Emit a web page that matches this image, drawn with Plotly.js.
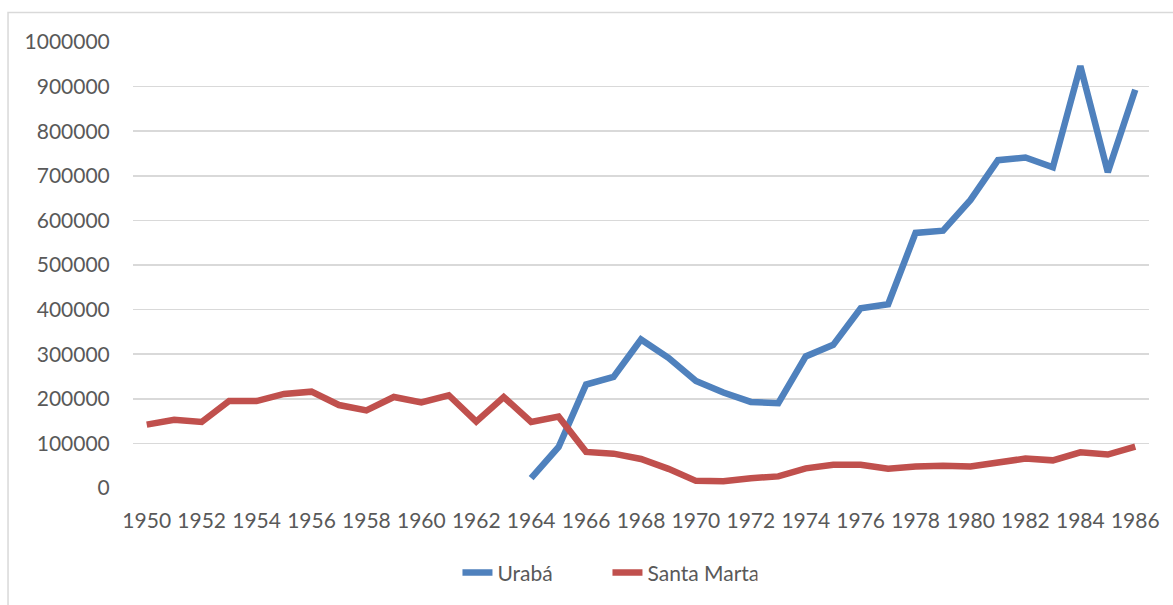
<!DOCTYPE html>
<html>
<head>
<meta charset="utf-8">
<script src="https://cdn.plot.ly/plotly-3.0.1.min.js"></script>
<style>html,body{margin:0;padding:0;background:#fff;}#chart{width:1173px;height:605px;}</style>
</head>
<body>
<div id="chart"></div>
<script>
const years = [1950,1951,1952,1953,1954,1955,1956,1957,1958,1959,1960,1961,1962,1963,1964,1965,1966,1967,1968,1969,1970,1971,1972,1973,1974,1975,1976,1977,1978,1979,1980,1981,1982,1983,1984,1985,1986];
const uraba = [null,null,null,null,null,null,null,null,null,null,null,null,null,null,
  22000,92000,232000,249000,333000,292000,240000,214000,193000,190000,295000,321000,403000,412000,572000,577000,646000,735000,741000,719000,946000,708000,893000];
const santaMarta = [142000,153000,148000,195000,195000,211000,216000,186000,174000,204000,192000,208000,149000,204000,148000,160000,81000,77000,65000,43000,16000,15000,22000,26000,44000,52000,52000,43000,48000,50000,48000,56000,66000,62000,80000,75000,93000];
const seriesNames = ["Urabá", "Santa Marta"];
const xTickLabels = ["1950","1952","1954","1956","1958","1960","1962","1964","1966","1968","1970","1972","1974","1976","1978","1980","1982","1984","1986"];
const yTicks = [0,100000,200000,300000,400000,500000,600000,700000,800000,900000,1000000];

const font = {family: "Lato, 'Open Sans', sans-serif", size: 21, color: "#595959"};

const traces = [
  {x: years, y: uraba, name: seriesNames[0], type: "scatter", mode: "lines",
   line: {color: "#4f81bd", width: 6.5, shape: "linear"}, connectgaps: false},
  {x: years, y: santaMarta, name: seriesNames[1], type: "scatter", mode: "lines",
   line: {color: "#c0504d", width: 6.5, shape: "linear"}}
];

const layout = {
  width: 1173, height: 605,
  margin: {l: 133, r: 24, t: 42, b: 114},
  paper_bgcolor: "#ffffff", plot_bgcolor: "#ffffff",
  font: font,
  showlegend: true,
  legend: {orientation: "h", x: 0.467, xanchor: "center", y: -0.19, yanchor: "middle",
           font: font, entrywidth: 105, tracegroupgap: 0},
  xaxis: {range: [1949.5, 1986.5], tickmode: "array", tickvals: xTickLabels.map(Number),
          ticktext: xTickLabels,
          showgrid: false, zeroline: false, showline: false,
          ticks: "outside", ticklen: 14, tickcolor: "rgba(0,0,0,0)", tickfont: font, fixedrange: true},
  yaxis: {range: [0, 1000000], tickmode: "array", tickvals: yTicks, ticktext: yTicks.map(String),
          showgrid: true, gridcolor: "#d9d9d9", gridwidth: 1.5, zeroline: false, showline: false,
          ticks: "outside", ticklen: 18, tickcolor: "rgba(0,0,0,0)", tickfont: font, fixedrange: true},
  shapes: [
    {type: "rect", xref: "paper", yref: "paper", x0: -0.123, x1: 1.2, y0: -0.4, y1: 1.066,
     line: {color: "#d9d9d9", width: 1.5}, fillcolor: "rgba(0,0,0,0)", layer: "below"}
  ]
};

Plotly.newPlot("chart", traces, layout, {displayModeBar: false, staticPlot: true});
</script>
</body>
</html>
